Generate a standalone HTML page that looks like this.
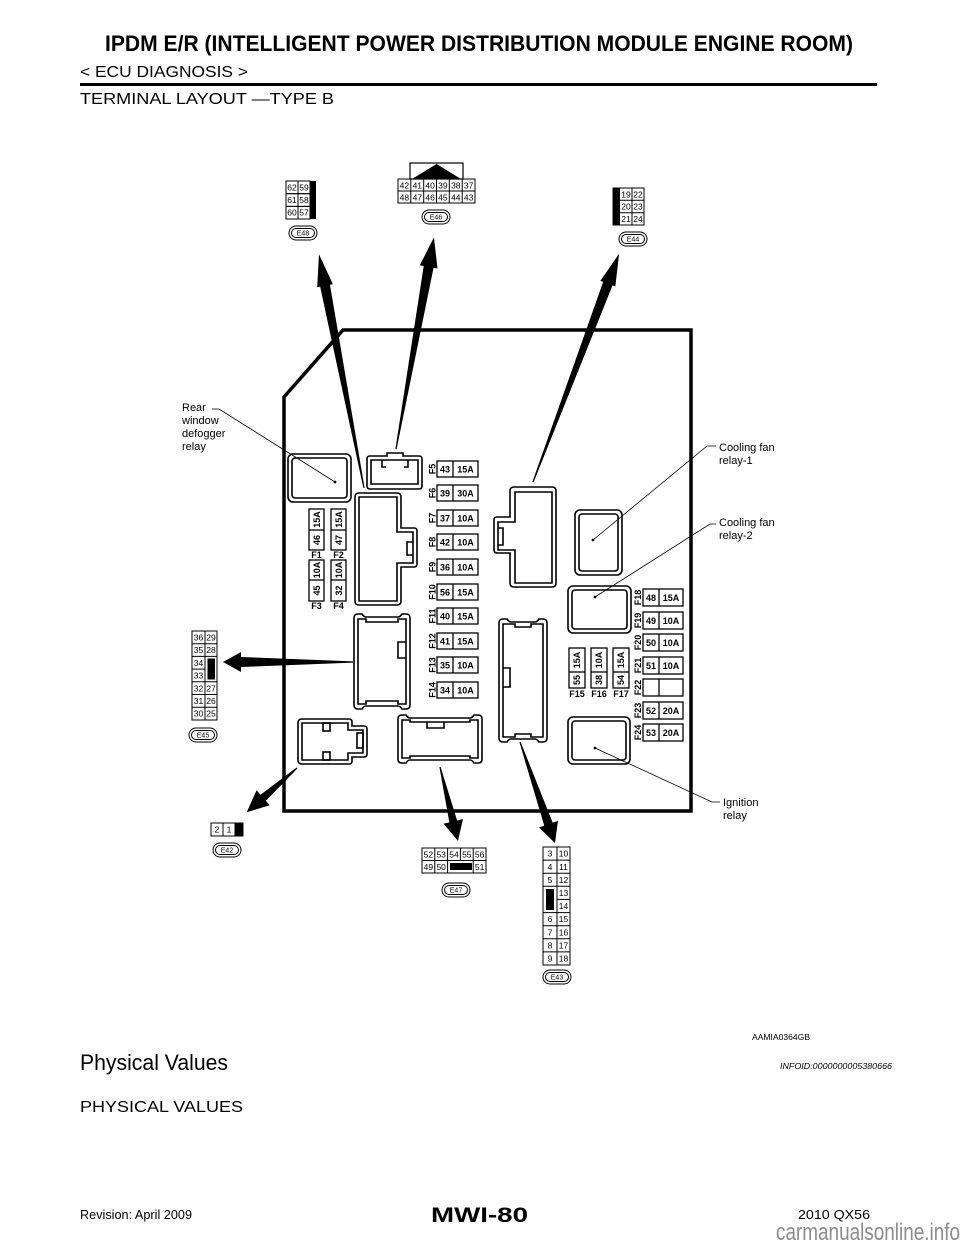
<!DOCTYPE html>
<html><head><meta charset="utf-8"><style>
html,body{margin:0;padding:0;background:#fff;}
svg{display:block;}
text{font-family:"Liberation Sans",Arial,sans-serif;fill:#000;}
.b{font-weight:bold;}
</style></head><body>
<svg width="960" height="1242" viewBox="0 0 960 1242" xmlns="http://www.w3.org/2000/svg">
<rect width="960" height="1242" fill="#fff"/>

<!-- Header -->
<text x="105" y="51" font-size="22" class="b" textLength="748" lengthAdjust="spacingAndGlyphs">IPDM E/R (INTELLIGENT POWER DISTRIBUTION MODULE ENGINE ROOM)</text>
<text x="80" y="77" font-size="15.5" textLength="168" lengthAdjust="spacingAndGlyphs">&lt; ECU DIAGNOSIS &gt;</text>
<line x1="80" y1="84.5" x2="877" y2="84.5" stroke="#000" stroke-width="3"/>
<text x="80" y="104" font-size="16" textLength="254" lengthAdjust="spacingAndGlyphs">TERMINAL LAYOUT —TYPE B</text>

<!-- Main box -->
<polygon points="343,330 691,330 691,811 284,811 284,397" fill="none" stroke="#000" stroke-width="3.5"/>

<g fill="none" stroke="#000" stroke-width="1.6">
  <!-- Rear window defogger relay -->
  <rect x="288" y="454" width="63" height="48" rx="5"/>
  <rect x="292" y="458" width="55" height="40" rx="3"/>
  <!-- Cooling fan relay-1 -->
  <rect x="575" y="510" width="47" height="65" rx="5"/>
  <rect x="579" y="514" width="39" height="57" rx="3"/>
  <!-- Cooling fan relay-2 -->
  <rect x="568" y="586" width="63" height="47" rx="5"/>
  <rect x="572" y="590" width="55" height="39" rx="3"/>
  <!-- Ignition relay -->
  <rect x="568" y="717" width="62" height="47" rx="5"/>
  <rect x="572" y="721" width="54" height="39" rx="3"/>

  <!-- top small connector -->
  <path d="M370,456 H387 V453 H403 V456 H419 Q422,456 422,459 V486 Q422,489 419,489 H370 Q367,489 367,486 V459 Q367,456 370,456 Z"/>
  <path d="M371,460 H418 V484 H371 Z"/>
  <path d="M382,460 V467 H386 M408,460 V467 H404"/>

  <!-- left big connector -->
  <path d="M359,493 H397 Q401,493 401,497 V528 H414 Q417,528 417,531 V564 Q417,567 414,567 H401 V601 Q401,605 397,605 H359 Q355,605 355,601 V497 Q355,493 359,493 Z"/>
  <path d="M359,497 H397 V532 H413 V563 H397 V601 H359 Z"/>
  <path d="M413,542 H407 V555 H413"/>

  <!-- right connector (E44 side) -->
  <path d="M514,487 H552 Q556,487 556,491 V583 Q556,587 552,587 H514 Q510,587 510,583 V553 H497 Q494,553 494,550 V520 Q494,517 497,517 H510 V491 Q510,487 514,487 Z"/>
  <path d="M515,492 H552 V583 H515 V550 H498 V522 H515 Z"/>
  <path d="M498,528 H503 V545 H498"/>

  <!-- left middle connector -->
  <path d="M358,614 H362 Q364,617 366,617 H398 Q400,617 402,614 H406 Q410,614 410,618 V705 Q410,709 406,709 H402 Q400,706 398,706 H366 Q364,706 362,709 H358 Q354,709 354,705 V618 Q354,614 358,614 Z"/>
  <path d="M358,619 H366 V622 H398 V619 H406 V704 H398 V701 H366 V704 H358 Z"/>
  <path d="M406,642 H398 V658 H406"/>

  <!-- bottom-left connector -->
  <path d="M302,719 H349 Q352,719 352,722 V726 H364 Q367,726 367,729 V754 Q367,757 364,757 H352 V761 Q352,764 349,764 H302 Q298,764 298,760 V723 Q298,719 302,719 Z"/>
  <path d="M302,723 H348 V730 H363 V753 H348 V760 H302 Z"/>
  <rect x="323" y="723" width="7" height="8"/>
  <rect x="323" y="752" width="7" height="8"/>
  <rect x="357" y="733" width="6" height="15"/>

  <!-- bottom middle connector -->
  <path d="M402,715 H406 Q408,718 410,718 H470 Q472,718 474,715 H478 Q482,715 482,719 V759 Q482,763 478,763 H474 Q472,760 470,760 H410 Q408,760 406,763 H402 Q398,763 398,759 V719 Q398,715 402,715 Z"/>
  <path d="M402,720 H410 V722 H470 V720 H478 V758 H470 V756 H410 V758 H402 Z"/>
  <path d="M427,722 V728 H444 V722"/>

  <!-- tall connector -->
  <path d="M503,619 H507 Q509,622 511,622 H535 Q537,622 539,619 H543 Q547,619 547,623 V738 Q547,742 543,742 H539 Q537,739 535,739 H511 Q509,739 507,742 H503 Q499,742 499,738 V623 Q499,619 503,619 Z"/>
  <path d="M503,624 H515 V627 H531 V624 H543 V737 H531 V734 H515 V737 H503 Z"/>
  <path d="M503,668 H510 V687 H503"/>
</g>

<!-- Leader lines -->
<g fill="none" stroke="#000" stroke-width="0.8">
  <polyline points="212,409 219,409 335,482"/>
  <polyline points="716,446 707,446 593,540"/>
  <polyline points="716,524 710,524 595,597"/>
  <polyline points="720,802 712,802 595,748"/>
</g>
<g fill="#000">
  <circle cx="335" cy="482" r="1.4"/>
  <circle cx="593" cy="540" r="1.4"/>
  <circle cx="595" cy="597" r="1.4"/>
  <circle cx="595" cy="748" r="1.4"/>
</g>

<!-- Labels -->
<g font-size="11">
  <text x="182" y="411">Rear</text>
  <text x="182" y="424">window</text>
  <text x="182" y="437">defogger</text>
  <text x="182" y="450">relay</text>
  <text x="719" y="451">Cooling fan</text>
  <text x="719" y="464">relay-1</text>
  <text x="719" y="526">Cooling fan</text>
  <text x="719" y="539">relay-2</text>
  <text x="723" y="806">Ignition</text>
  <text x="723" y="819">relay</text>
</g>

<!-- Fuse column F5-F14 -->
<g fill="none" stroke="#000" stroke-width="1.3">
  <rect x="437" y="461" width="41" height="16"/><line x1="453" y1="461" x2="453" y2="477"/>
  <rect x="437" y="485" width="41" height="16"/><line x1="453" y1="485" x2="453" y2="501"/>
  <rect x="437" y="510" width="41" height="16"/><line x1="453" y1="510" x2="453" y2="526"/>
  <rect x="437" y="534" width="41" height="16"/><line x1="453" y1="534" x2="453" y2="550"/>
  <rect x="437" y="559" width="41" height="16"/><line x1="453" y1="559" x2="453" y2="575"/>
  <rect x="437" y="584" width="41" height="16"/><line x1="453" y1="584" x2="453" y2="600"/>
  <rect x="437" y="608" width="41" height="16"/><line x1="453" y1="608" x2="453" y2="624"/>
  <rect x="437" y="633" width="41" height="16"/><line x1="453" y1="633" x2="453" y2="649"/>
  <rect x="437" y="657" width="41" height="16"/><line x1="453" y1="657" x2="453" y2="673"/>
  <rect x="437" y="682" width="41" height="16"/><line x1="453" y1="682" x2="453" y2="698"/>
</g>
<g font-size="9" class="b" text-anchor="middle">
  <text x="445" y="472.5">43</text><text x="465.5" y="472.5">15A</text>
  <text x="445" y="496.5">39</text><text x="465.5" y="496.5">30A</text>
  <text x="445" y="521.5">37</text><text x="465.5" y="521.5">10A</text>
  <text x="445" y="545.5">42</text><text x="465.5" y="545.5">10A</text>
  <text x="445" y="570.5">36</text><text x="465.5" y="570.5">10A</text>
  <text x="445" y="595.5">56</text><text x="465.5" y="595.5">15A</text>
  <text x="445" y="619.5">40</text><text x="465.5" y="619.5">15A</text>
  <text x="445" y="644.5">41</text><text x="465.5" y="644.5">15A</text>
  <text x="445" y="668.5">35</text><text x="465.5" y="668.5">10A</text>
  <text x="445" y="693.5">34</text><text x="465.5" y="693.5">10A</text>
  <text transform="translate(435.5,469) rotate(-90)">F5</text>
  <text transform="translate(435.5,493) rotate(-90)">F6</text>
  <text transform="translate(435.5,518) rotate(-90)">F7</text>
  <text transform="translate(435.5,542) rotate(-90)">F8</text>
  <text transform="translate(435.5,567) rotate(-90)">F9</text>
  <text transform="translate(435.5,592) rotate(-90)">F10</text>
  <text transform="translate(435.5,616) rotate(-90)">F11</text>
  <text transform="translate(435.5,641) rotate(-90)">F12</text>
  <text transform="translate(435.5,665) rotate(-90)">F13</text>
  <text transform="translate(435.5,690) rotate(-90)">F14</text>
</g>

<!-- Fuse column F18-F24 -->
<g fill="none" stroke="#000" stroke-width="1.3">
  <rect x="643" y="589" width="40" height="17"/><line x1="659" y1="589" x2="659" y2="606"/>
  <rect x="643" y="612" width="40" height="17"/><line x1="659" y1="612" x2="659" y2="629"/>
  <rect x="643" y="634" width="40" height="17"/><line x1="659" y1="634" x2="659" y2="651"/>
  <rect x="643" y="657" width="40" height="17"/><line x1="659" y1="657" x2="659" y2="674"/>
  <rect x="643" y="679" width="40" height="17"/><line x1="659" y1="679" x2="659" y2="696"/>
  <rect x="643" y="702" width="40" height="17"/><line x1="659" y1="702" x2="659" y2="719"/>
  <rect x="643" y="724" width="40" height="17"/><line x1="659" y1="724" x2="659" y2="741"/>
</g>
<g font-size="9" class="b" text-anchor="middle">
  <text x="651" y="601">48</text><text x="671" y="601">15A</text>
  <text x="651" y="624">49</text><text x="671" y="624">10A</text>
  <text x="651" y="646">50</text><text x="671" y="646">10A</text>
  <text x="651" y="669">51</text><text x="671" y="669">10A</text>
  <text x="651" y="714">52</text><text x="671" y="714">20A</text>
  <text x="651" y="736">53</text><text x="671" y="736">20A</text>
  <text transform="translate(641,597.5) rotate(-90)">F18</text>
  <text transform="translate(641,620.5) rotate(-90)">F19</text>
  <text transform="translate(641,642.5) rotate(-90)">F20</text>
  <text transform="translate(641,665.5) rotate(-90)">F21</text>
  <text transform="translate(641,687.5) rotate(-90)">F22</text>
  <text transform="translate(641,710.5) rotate(-90)">F23</text>
  <text transform="translate(641,732.5) rotate(-90)">F24</text>
</g>

<!-- Vertical fuses F1-F4, F15-F17 -->
<g fill="none" stroke="#000" stroke-width="1.3">
  <rect x="309" y="509" width="15" height="41"/><line x1="309" y1="530" x2="324" y2="530"/>
  <rect x="331" y="509" width="15" height="41"/><line x1="331" y1="530" x2="346" y2="530"/>
  <rect x="309" y="560" width="15" height="41"/><line x1="309" y1="580" x2="324" y2="580"/>
  <rect x="331" y="560" width="15" height="41"/><line x1="331" y1="580" x2="346" y2="580"/>
  <rect x="569" y="648" width="16" height="40"/><line x1="569" y1="672" x2="585" y2="672"/>
  <rect x="591" y="648" width="16" height="40"/><line x1="591" y1="672" x2="607" y2="672"/>
  <rect x="613" y="648" width="16" height="40"/><line x1="613" y1="672" x2="629" y2="672"/>
</g>
<g font-size="9" class="b" text-anchor="middle">
  <text transform="translate(319.8,519.5) rotate(-90)">15A</text>
  <text transform="translate(319.8,540) rotate(-90)">46</text>
  <text transform="translate(341.8,519.5) rotate(-90)">15A</text>
  <text transform="translate(341.8,540) rotate(-90)">47</text>
  <text transform="translate(319.8,570) rotate(-90)">10A</text>
  <text transform="translate(319.8,590.5) rotate(-90)">45</text>
  <text transform="translate(341.8,570) rotate(-90)">10A</text>
  <text transform="translate(341.8,590.5) rotate(-90)">32</text>
  <text x="316.5" y="558">F1</text>
  <text x="338.5" y="558">F2</text>
  <text x="316.5" y="609">F3</text>
  <text x="338.5" y="609">F4</text>
  <text transform="translate(580.2,660) rotate(-90)">15A</text>
  <text transform="translate(580.2,680) rotate(-90)">55</text>
  <text transform="translate(602.2,660) rotate(-90)">10A</text>
  <text transform="translate(602.2,680) rotate(-90)">38</text>
  <text transform="translate(624.2,660) rotate(-90)">15A</text>
  <text transform="translate(624.2,680) rotate(-90)">54</text>
  <text x="577" y="697">F15</text>
  <text x="599" y="697">F16</text>
  <text x="621" y="697">F17</text>
</g>

<!-- Arrows -->
<g fill="#000">
  <polygon transform="translate(364,488) rotate(-100.9)" points="0,-0.6 206,-5 206,-8 238,0 206,8 206,5 0,0.6"/>
  <polygon transform="translate(396,449) rotate(-79.84)" points="0,-0.6 185,-5 185,-9 215,0 185,9 185,5 0,0.6"/>
  <polygon transform="translate(533,482) rotate(-69.33)" points="0,-0.6 212,-5 212,-8 244,0 212,8 212,5 0,0.6"/>
  <polygon transform="translate(353,662) rotate(180)" points="0,-0.6 112,-5 112,-10 130,0 112,10 112,5 0,0.6"/>
  <polygon transform="translate(297,768) rotate(138.65)" points="0,-0.6 45,-4 45,-10 67,0 45,10 45,4 0,0.6"/>
  <polygon transform="translate(440,767) rotate(76.33)" points="0,-0.6 56,-4 56,-10 76,0 56,10 56,4 0,0.6"/>
  <polygon transform="translate(520,742) rotate(70.89)" points="0,-0.6 87,-4.5 87,-10 107,0 87,10 87,4.5 0,0.6"/>
</g>

<!-- Connector tables -->
<g fill="none" stroke="#000" stroke-width="1">
  <!-- E48 -->
  <rect x="286" y="181" width="12" height="12.7"/><rect x="298" y="181" width="12" height="12.7"/>
  <rect x="286" y="193.7" width="12" height="12.7"/><rect x="298" y="193.7" width="12" height="12.7"/>
  <rect x="286" y="206.4" width="12" height="12.6"/><rect x="298" y="206.4" width="12" height="12.6"/>
  <!-- E46 -->
  <rect x="410" y="163" width="53" height="16" stroke-width="1.2"/>
  <rect x="398" y="179" width="77" height="24"/>
  <line x1="398" y1="191" x2="475" y2="191"/>
  <line x1="410.8" y1="179" x2="410.8" y2="203"/><line x1="423.7" y1="179" x2="423.7" y2="203"/>
  <line x1="436.5" y1="179" x2="436.5" y2="203"/><line x1="449.3" y1="179" x2="449.3" y2="203"/>
  <line x1="462.2" y1="179" x2="462.2" y2="203"/>
  <!-- E44 -->
  <rect x="613" y="188" width="31" height="37"/>
  <line x1="632" y1="188" x2="632" y2="225"/>
  <line x1="620" y1="200.3" x2="644" y2="200.3"/><line x1="620" y1="212.7" x2="644" y2="212.7"/>
  <!-- E45 -->
  <rect x="192" y="631" width="25" height="89"/>
  <line x1="205" y1="631" x2="205" y2="720"/>
  <line x1="192" y1="643.7" x2="217" y2="643.7"/>
  <line x1="192" y1="656.4" x2="217" y2="656.4"/>
  <line x1="192" y1="669.1" x2="205" y2="669.1"/>
  <line x1="192" y1="681.8" x2="217" y2="681.8"/>
  <line x1="192" y1="694.5" x2="217" y2="694.5"/>
  <line x1="192" y1="707.2" x2="217" y2="707.2"/>
  <!-- E42 -->
  <rect x="211" y="823" width="32" height="13"/>
  <line x1="223" y1="823" x2="223" y2="836"/><line x1="235" y1="823" x2="235" y2="836"/>
  <!-- E47 -->
  <rect x="422" y="848" width="64" height="25"/>
  <line x1="422" y1="860.5" x2="486" y2="860.5"/>
  <line x1="434.8" y1="848" x2="434.8" y2="873"/><line x1="447.6" y1="848" x2="447.6" y2="873"/>
  <line x1="460.4" y1="848" x2="460.4" y2="860.5"/><line x1="473.2" y1="848" x2="473.2" y2="873"/>
  <!-- E43 -->
  <rect x="543" y="847" width="27" height="118"/>
  <line x1="557" y1="847" x2="557" y2="965"/>
  <line x1="543" y1="860.1" x2="570" y2="860.1"/>
  <line x1="543" y1="873.2" x2="570" y2="873.2"/>
  <line x1="543" y1="886.3" x2="570" y2="886.3"/>
  <line x1="557" y1="899.4" x2="570" y2="899.4"/>
  <line x1="543" y1="912.6" x2="570" y2="912.6"/>
  <line x1="543" y1="925.7" x2="570" y2="925.7"/>
  <line x1="543" y1="938.8" x2="570" y2="938.8"/>
  <line x1="543" y1="951.9" x2="570" y2="951.9"/>
</g>
<g fill="#000">
  <rect x="310" y="181" width="6" height="38"/>
  <polygon points="412,179 436.5,164 461,179"/>
  <rect x="613" y="188" width="7" height="37"/>
  <rect x="207.5" y="658.5" width="7.5" height="21"/>
  <rect x="235" y="823" width="8" height="13"/>
  <rect x="450" y="863" width="22" height="7"/>
  <rect x="546" y="889" width="8" height="21"/>
</g>
<g font-size="8.5" text-anchor="middle">
  <text x="292" y="190.5">62</text><text x="304" y="190.5">59</text>
  <text x="292" y="203">61</text><text x="304" y="203">58</text>
  <text x="292" y="215.5">60</text><text x="304" y="215.5">57</text>

  <text x="404.4" y="188.3">42</text><text x="417.3" y="188.3">41</text><text x="430.1" y="188.3">40</text>
  <text x="442.9" y="188.3">39</text><text x="455.8" y="188.3">38</text><text x="468.6" y="188.3">37</text>
  <text x="404.4" y="200.3">48</text><text x="417.3" y="200.3">47</text><text x="430.1" y="200.3">46</text>
  <text x="442.9" y="200.3">45</text><text x="455.8" y="200.3">44</text><text x="468.6" y="200.3">43</text>

  <text x="626" y="197.3">19</text><text x="638" y="197.3">22</text>
  <text x="626" y="209.7">20</text><text x="638" y="209.7">23</text>
  <text x="626" y="222">21</text><text x="638" y="222">24</text>

  <text x="198.5" y="640.5">36</text><text x="211" y="640.5">29</text>
  <text x="198.5" y="653.2">35</text><text x="211" y="653.2">28</text>
  <text x="198.5" y="665.9">34</text>
  <text x="198.5" y="678.6">33</text>
  <text x="198.5" y="691.3">32</text><text x="211" y="691.3">27</text>
  <text x="198.5" y="704">31</text><text x="211" y="704">26</text>
  <text x="198.5" y="716.7">30</text><text x="211" y="716.7">25</text>

  <text x="217" y="832.5">2</text><text x="229" y="832.5">1</text>

  <text x="428.4" y="857.5">52</text><text x="441.2" y="857.5">53</text><text x="454" y="857.5">54</text>
  <text x="466.8" y="857.5">55</text><text x="479.6" y="857.5">56</text>
  <text x="428.4" y="870">49</text><text x="441.2" y="870">50</text><text x="479.6" y="870">51</text>

  <text x="550" y="856.7">3</text><text x="563.5" y="856.7">10</text>
  <text x="550" y="869.8">4</text><text x="563.5" y="869.8">11</text>
  <text x="550" y="882.9">5</text><text x="563.5" y="882.9">12</text>
  <text x="563.5" y="896">13</text>
  <text x="563.5" y="909.1">14</text>
  <text x="550" y="922.2">6</text><text x="563.5" y="922.2">15</text>
  <text x="550" y="935.3">7</text><text x="563.5" y="935.3">16</text>
  <text x="550" y="948.4">8</text><text x="563.5" y="948.4">17</text>
  <text x="550" y="961.5">9</text><text x="563.5" y="961.5">18</text>
</g>

<!-- Connector ID ovals -->
<g fill="none" stroke="#000" stroke-width="1">
  <rect x="289" y="226" width="28" height="14" rx="7"/><rect x="291.5" y="228.5" width="23" height="9" rx="4.5"/>
  <rect x="422" y="210" width="28" height="14" rx="7"/><rect x="424.5" y="212.5" width="23" height="9" rx="4.5"/>
  <rect x="619" y="232" width="28" height="14" rx="7"/><rect x="621.5" y="234.5" width="23" height="9" rx="4.5"/>
  <rect x="189" y="728" width="28" height="14" rx="7"/><rect x="191.5" y="730.5" width="23" height="9" rx="4.5"/>
  <rect x="213" y="843" width="28" height="14" rx="7"/><rect x="215.5" y="845.5" width="23" height="9" rx="4.5"/>
  <rect x="442" y="883" width="28" height="14" rx="7"/><rect x="444.5" y="885.5" width="23" height="9" rx="4.5"/>
  <rect x="543" y="970" width="28" height="14" rx="7"/><rect x="545.5" y="972.5" width="23" height="9" rx="4.5"/>
</g>
<g font-size="7" text-anchor="middle">
  <text x="303" y="235.5">E48</text>
  <text x="436" y="219.5">E46</text>
  <text x="633" y="241.5">E44</text>
  <text x="203" y="737.5">E45</text>
  <text x="227" y="852.5">E42</text>
  <text x="456" y="892.5">E47</text>
  <text x="557" y="979.5">E43</text>
</g>

<!-- Lower text -->
<text x="752" y="1040" font-size="8" textLength="58" lengthAdjust="spacingAndGlyphs">AAMIA0364GB</text>
<text x="80" y="1070" font-size="22" textLength="148" lengthAdjust="spacingAndGlyphs">Physical Values</text>
<text x="780" y="1069" font-size="8" font-style="italic" textLength="112" lengthAdjust="spacingAndGlyphs">INFOID:0000000005380666</text>
<text x="80" y="1112" font-size="16" textLength="163" lengthAdjust="spacingAndGlyphs">PHYSICAL VALUES</text>

<!-- Footer -->
<text x="80" y="1219" font-size="13" textLength="112" lengthAdjust="spacingAndGlyphs">Revision: April 2009</text>
<text x="431" y="1222" font-size="21" class="b" textLength="97" lengthAdjust="spacingAndGlyphs">MWI-80</text>
<text x="798" y="1219" font-size="13" textLength="72" lengthAdjust="spacingAndGlyphs">2010 QX56</text>
<text x="776" y="1240" font-size="24" fill="#8c8c8c" style="fill:#8c8c8c" textLength="184" lengthAdjust="spacingAndGlyphs">carmanualsonline.info</text>
</svg>
</body></html>
